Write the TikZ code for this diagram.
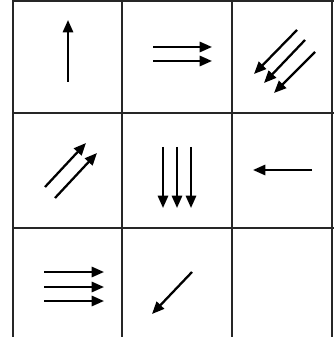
\documentclass[tikz,border=0pt]{standalone}
\usetikzlibrary{arrows.meta}
\tikzset{
  gridline/.style={line width=1.2pt, black!85},
  dirarrow/.style={line width=1.3pt, -{Triangle[length=7pt,width=5.8pt]}},
}

\begin{document}
\begin{tikzpicture}[x=0.02cm, y=-0.02cm]
    \useasboundingbox (0,0) rectangle (334,337);
    % grid
    \foreach \gx in {13,122,232,332}
      \draw[gridline] (\gx,0) -- (\gx,337);
    \foreach \gy in {1,113,228}
      \draw[gridline] (13,\gy) -- (334,\gy);
    % row 1
    \draw[dirarrow] (68,82) -- (68,20);
    \foreach \ay in {47,61}
      \draw[dirarrow] (153,\ay) -- (212,\ay);
    \draw[dirarrow] (297,30) -- (254,74);
    \draw[dirarrow] (305,40) -- (264,83);
    \draw[dirarrow] (315,52) -- (274,93);
    % row 2
    \draw[dirarrow] (45,187) -- (86,143);
    \draw[dirarrow] (55,198) -- (97,153);
    \foreach \ax in {163,177,191}
      \draw[dirarrow] (\ax,147) -- (\ax,208);
    \draw[dirarrow] (312,170) -- (253,170);
    % row 3
    \foreach \ay in {272,287,301}
      \draw[dirarrow] (44,\ay) -- (104,\ay);
    \draw[dirarrow] (192,272) -- (152,314);
  \end{tikzpicture}
\end{document}
